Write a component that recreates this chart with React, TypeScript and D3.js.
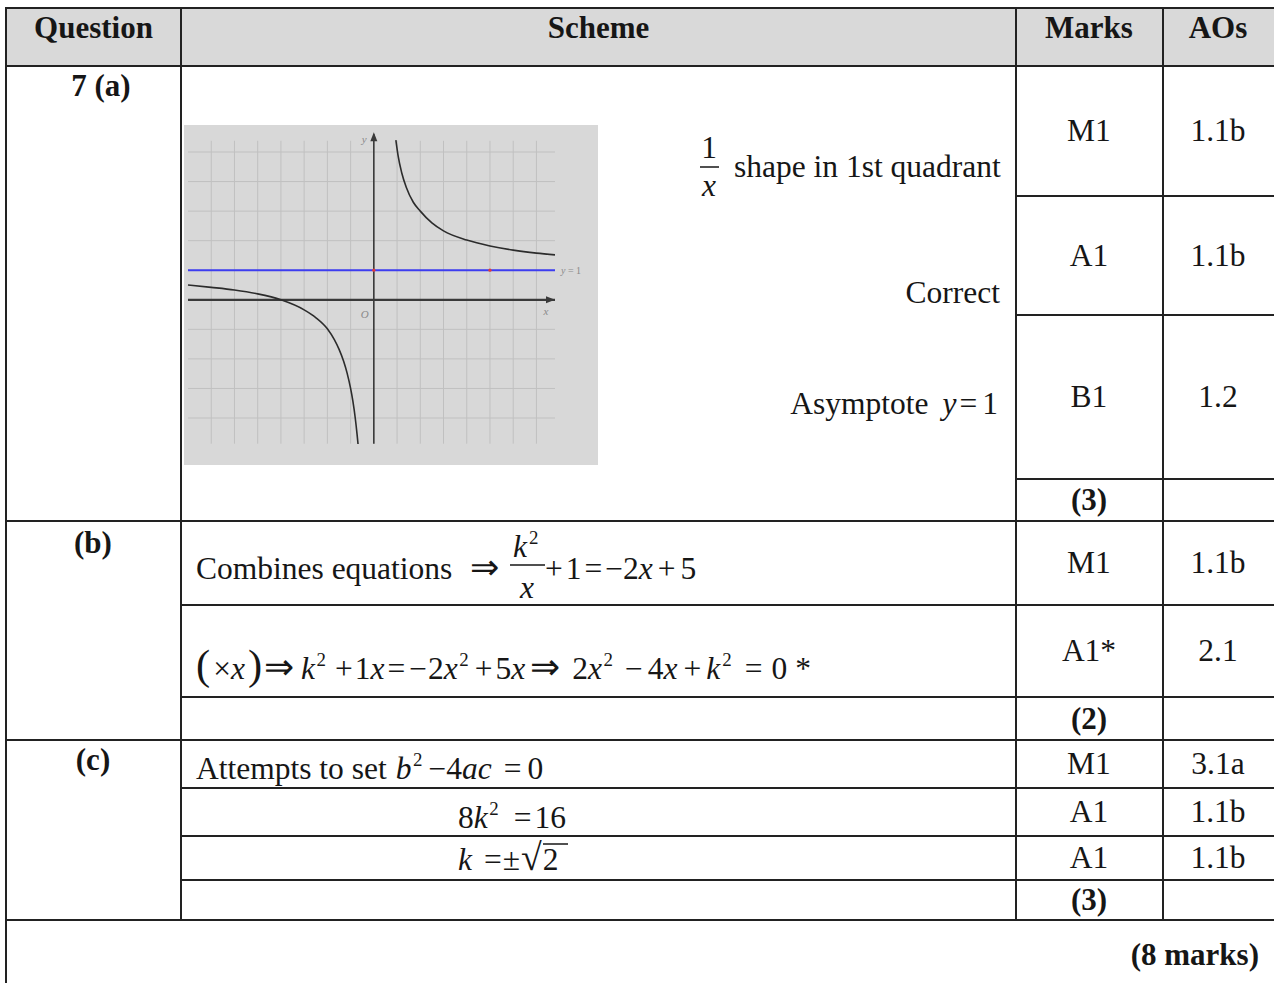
import React from 'react';
import * as d3 from 'd3';

// table content
const headers = ['Question', 'Scheme', 'Marks', 'AOs'];
const partLabels = ['7 (a)', '(b)', '(c)'];
const markLabels = ['M1', 'A1', 'B1', '(3)', 'M1', 'A1*', '(2)', 'M1', 'A1', 'A1', '(3)'];
const aoLabels = ['1.1b', '1.1b', '1.2', '', '1.1b', '2.1', '', '3.1a', '1.1b', '1.1b', ''];
const totalLabel = '(8 marks)';

// sketch graph, values
const gridXs = [-7, -6, -5, -4, -3, -2, -1, 0, 1, 2, 3, 4, 5, 6, 7];
const gridYs = [-4, -3, -2, -1, 0, 1, 2, 3, 4, 5];
const upperBranch: [number, number][] = [
  [0.95, 5.4], [1.05, 4.85], [1.2, 4.3], [1.4, 3.8], [1.7, 3.3], [2, 3.0],
  [2.5, 2.6], [3, 2.33], [4, 2.02], [5, 1.82], [6, 1.68], [7, 1.58], [7.8, 1.52],
];
const lowerBranch: [number, number][] = [
  [-8, 0.5], [-7, 0.42], [-6, 0.33], [-5, 0.2], [-4, 0.0], [-3, -0.34],
  [-2.5, -0.6], [-2, -0.98], [-1.7, -1.35], [-1.5, -1.67], [-1.3, -2.08],
  [-1.15, -2.48], [-1, -3.0], [-0.9, -3.44], [-0.8, -4.0], [-0.72, -4.56], [-0.68, -4.88],
];
const asymptote = 1;
const markedPoints: [number, number][] = [[0, 1], [5, 1]];

// layout
const colX = [6, 181, 1016, 1163, 1290];
const tableTop = 8;
const headBottom = 66;
const markEdges = [66, 196, 315, 479, 521, 605, 697, 740, 788, 836, 880, 920];
const partEdges = [521, 740, 920];
const schemeEdges = [605, 697, 788, 836, 880];
const markOnlyEdges = [196, 315, 479];

const SERIF = '"Liberation Serif", "Times New Roman", Times, serif';
const INK = '#161616';
const FS = 31.5;

// g = gap before the run, s = size factor
type Run = { t: string; i?: boolean; sup?: boolean; g?: number; s?: number };

function runs(list: Run[], size: number) {
  const out: React.ReactNode[] = [];
  let raised = false;
  list.forEach((r, k) => {
    let dy = 0;
    if (r.sup && !raised) { dy = -13; raised = true; }
    else if (!r.sup && raised) { dy = 13; raised = false; }
    const fs = r.sup ? size * 0.6 : r.s ? size * r.s : undefined;
    out.push(
      <tspan key={k} dx={r.g || undefined} dy={dy || undefined}
        fontStyle={r.i ? 'italic' : undefined} fontSize={fs}>{r.t}</tspan>
    );
  });
  return out;
}

function MathLine({ x, y, parts, anchor = 'start', size = FS }:
  { x: number; y: number; parts: Run[]; anchor?: string; size?: number }) {
  return (
    <text x={x} y={y} textAnchor={anchor} fontSize={size} fontFamily={SERIF} fill={INK}
      style={{ whiteSpace: 'pre' }}>
      {runs(parts, size)}
    </text>
  );
}

function Graph() {
  const x = d3.scaleLinear().domain([-8, 7.8]).range([188, 555]);
  const y = d3.scaleLinear().domain([-4, 5]).range([418, 152]);
  const line = d3.line<[number, number]>()
    .x(d => x(d[0])).y(d => y(d[1])).curve(d3.curveMonotoneX);
  const yTop = 5.6, yBot = -4.87, gridTop = 5.38;
  return (
    <g>
      <rect x={184} y={125} width={414} height={340} fill="#d8d8d8" />
      {gridXs.map(v => (
        <line key={'gx' + v} x1={x(v)} x2={x(v)} y1={y(gridTop)} y2={y(yBot)} stroke="#c0c0c0" strokeWidth={1} />
      ))}
      {gridYs.map(v => (
        <line key={'gy' + v} x1={x(-8)} x2={x(7.8)} y1={y(v)} y2={y(v)} stroke="#c0c0c0" strokeWidth={1} />
      ))}
      {/* axes */}
      <line x1={x(-8)} x2={x(7.8)} y1={y(0)} y2={y(0)} stroke="#3a3a3a" strokeWidth={2.2} />
      <path d={`M${x(7.8)},${y(0)} l-9,-3.5 l0,7 z`} fill="#3a3a3a" />
      <line x1={x(0)} x2={x(0)} y1={y(yTop)} y2={y(yBot)} stroke="#3a3a3a" strokeWidth={1.6} />
      <path d={`M${x(0)},${y(yTop) - 2} l-3.5,9 l7,0 z`} fill="#3a3a3a" />
      {/* asymptote */}
      <line x1={x(-8)} x2={x(7.8)} y1={y(asymptote)} y2={y(asymptote)} stroke="#3d3df0" strokeWidth={2} />
      {markedPoints.map((p, k) => (
        <circle key={k} cx={x(p[0])} cy={y(p[1])} r={1.6} fill="#e23a3a" />
      ))}
      <path d={line(upperBranch) || ''} fill="none" stroke="#2c2c2c" strokeWidth={1.6} />
      <path d={line(lowerBranch) || ''} fill="none" stroke="#2c2c2c" strokeWidth={1.6} />
      {/* labels */}
      <text x={x(0) - 12} y={y(5.3)} fontSize={11} fontStyle="italic" fontFamily={SERIF} fill="#8a8a8a">y</text>
      <text x={x(0) - 13} y={y(-0.6)} fontSize={11} fontStyle="italic" fontFamily={SERIF} fill="#8a8a8a">O</text>
      <text x={x(7.3)} y={y(-0.5)} fontSize={11} fontStyle="italic" fontFamily={SERIF} fill="#8a8a8a">x</text>
      <text x={x(7.8) + 6} y={y(asymptote) + 4} fontSize={10} fontFamily={SERIF} fill="#8a8a8a">
        <tspan fontStyle="italic">y</tspan> = 1
      </text>
    </g>
  );
}

export default function App() {
  const right = colX[4];
  const hLine = (yy: number, x1: number, k: string) => (
    <line key={k} x1={x1} x2={right} y1={yy} y2={yy} stroke="#222" strokeWidth={2} />
  );
  const markCenter = 1089;
  const aoCenter = 1218;
  return (
    <svg width={1274} height={983} style={{ position: 'absolute', left: 0, top: 0, background: '#fff' }}>
      <rect x={colX[0]} y={tableTop} width={right - colX[0]} height={headBottom - tableTop} fill="#d9d9d9" />

      {/* header */}
      {headers.map((h, k) => {
        const cx = k === 3 ? aoCenter : k === 2 ? markCenter : (colX[k] + colX[k + 1]) / 2;
        return (
          <text key={h} x={cx} y={38} textAnchor="middle" fontSize={31} fontWeight="bold"
            fontFamily={SERIF} fill={INK}>{h}</text>
        );
      })}

      {/* question parts */}
      {partLabels.map((p, k) => (
        <text key={p} x={k === 0 ? 101 : 93} y={[96, 553, 770][k]} textAnchor="middle" fontSize={31}
          fontWeight="bold" fontFamily={SERIF} fill={INK}>{p}</text>
      ))}

      {/* marks and AOs */}
      {markLabels.map((m, k) => {
        const yy = (markEdges[k] + markEdges[k + 1]) / 2 + 10;
        const bold = m.startsWith('(');
        return (
          <g key={'m' + k}>
            <text x={markCenter} y={yy} textAnchor="middle" fontSize={bold ? 31 : FS} fontWeight={bold ? 'bold' : 'normal'}
              fontFamily={SERIF} fill={INK}>{m}</text>
            {aoLabels[k] && (
              <text x={aoCenter} y={yy} textAnchor="middle" fontSize={FS}
                fontFamily={SERIF} fill={INK}>{aoLabels[k]}</text>
            )}
          </g>
        );
      })}

      <Graph />

      {/* scheme (a) */}
      <text x={709} y={158} textAnchor="middle" fontSize={FS} fontFamily={SERIF} fill={INK}>1</text>
      <line x1={700} x2={719} y1={167} y2={167} stroke={INK} strokeWidth={1.5} />
      <text x={709} y={196} textAnchor="middle" fontSize={FS} fontStyle="italic" fontFamily={SERIF} fill={INK}>x</text>
      <text x={734} y={177} fontSize={FS} fontFamily={SERIF} fill={INK}>shape in 1st quadrant</text>
      <text x={1000} y={303} textAnchor="end" fontSize={FS} fontFamily={SERIF} fill={INK}>Correct</text>
      <MathLine x={998} y={414} anchor="end" parts={[
        { t: 'Asymptote' }, { t: 'y', i: true, g: 14 }, { t: '=', g: 3 }, { t: '1', g: 5 },
      ]} />

      {/* scheme (b) */}
      <text x={196} y={579} fontSize={FS} fontFamily={SERIF} fill={INK}>Combines equations</text>
      <text x={470} y={579} fontSize={FS * 1.1} fontFamily={SERIF} fill={INK}>⇒</text>
      <MathLine x={513} y={557} parts={[{ t: 'k', i: true }, { t: '2', sup: true, g: 2 }]} />
      <line x1={510} x2={545} y1={565} y2={565} stroke={INK} strokeWidth={1.5} />
      <text x={527} y={598} textAnchor="middle" fontSize={FS} fontStyle="italic" fontFamily={SERIF} fill={INK}>x</text>
      <MathLine x={545} y={579} parts={[
        { t: '+' }, { t: '1', g: 3 }, { t: '=', g: 3 }, { t: '−', g: 3 }, { t: '2' }, { t: 'x', i: true },
        { t: '+', g: 5 }, { t: '5', g: 5 },
      ]} />

      <MathLine x={196} y={679} parts={[
        { t: '(', s: 1.35 }, { t: '×', g: 3 }, { t: 'x', i: true }, { t: ')', g: 3, s: 1.35 },
        { t: '⇒', g: 2, s: 1.15 }, { t: 'k', i: true, g: 7 }, { t: '2', sup: true, g: 1.5 },
        { t: '+', g: 9 }, { t: '1', g: 2 }, { t: 'x', i: true }, { t: '=', g: 3 },
        { t: '−', g: 4 }, { t: '2', g: 1 }, { t: 'x', i: true }, { t: '2', sup: true, g: 1.5 },
        { t: '+', g: 6 }, { t: '5', g: 3 }, { t: 'x', i: true },
        { t: '⇒', g: 5, s: 1.15 }, { t: '2', g: 12 }, { t: 'x', i: true }, { t: '2', sup: true, g: 1.5 },
        { t: '−', g: 12 }, { t: '4', g: 5 }, { t: 'x', i: true },
        { t: '+', g: 6 }, { t: 'k', i: true, g: 5 }, { t: '2', sup: true, g: 2 },
        { t: '=', g: 13 }, { t: '0', g: 9 }, { t: '*', g: 8 },
      ]} />

      {/* scheme (c) */}
      <MathLine x={196} y={779} parts={[
        { t: 'Attempts to set' }, { t: 'b', i: true, g: 9 }, { t: '2', sup: true, g: 1.5 },
        { t: '−', g: 6 }, { t: '4' }, { t: 'ac', i: true },
        { t: '=', g: 12 }, { t: '0', g: 6 },
      ]} />
      <MathLine x={458} y={828} parts={[
        { t: '8' }, { t: 'k', i: true }, { t: '2', sup: true, g: 1.5 },
        { t: '=', g: 15 }, { t: '16', g: 3 },
      ]} />
      <MathLine x={458} y={870} parts={[
        { t: 'k', i: true }, { t: '=', g: 12 }, { t: '±', g: 1 }, { t: '√', g: 1, s: 1.2 }, { t: '2', g: 1 },
      ]} />
      <line x1={543} x2={568} y1={844} y2={844} stroke={INK} strokeWidth={1.5} />

      <text x={1259} y={965} textAnchor="end" fontSize={31} fontWeight="bold" fontFamily={SERIF} fill={INK}>{totalLabel}</text>

      {/* rules */}
      {hLine(tableTop, colX[0], 'top')}
      {hLine(headBottom, colX[0], 'hb')}
      {partEdges.map(e => hLine(e, colX[0], 'p' + e))}
      {schemeEdges.map(e => hLine(e, colX[1], 's' + e))}
      {markOnlyEdges.map(e => hLine(e, colX[2], 'm' + e))}
      <line x1={colX[0]} x2={colX[0]} y1={tableTop - 1} y2={983} stroke="#222" strokeWidth={2} />
      {colX.slice(1, 4).map(c => (
        <line key={'c' + c} x1={c} x2={c} y1={tableTop} y2={partEdges[2]} stroke="#222" strokeWidth={2} />
      ))}
    </svg>
  );
}
